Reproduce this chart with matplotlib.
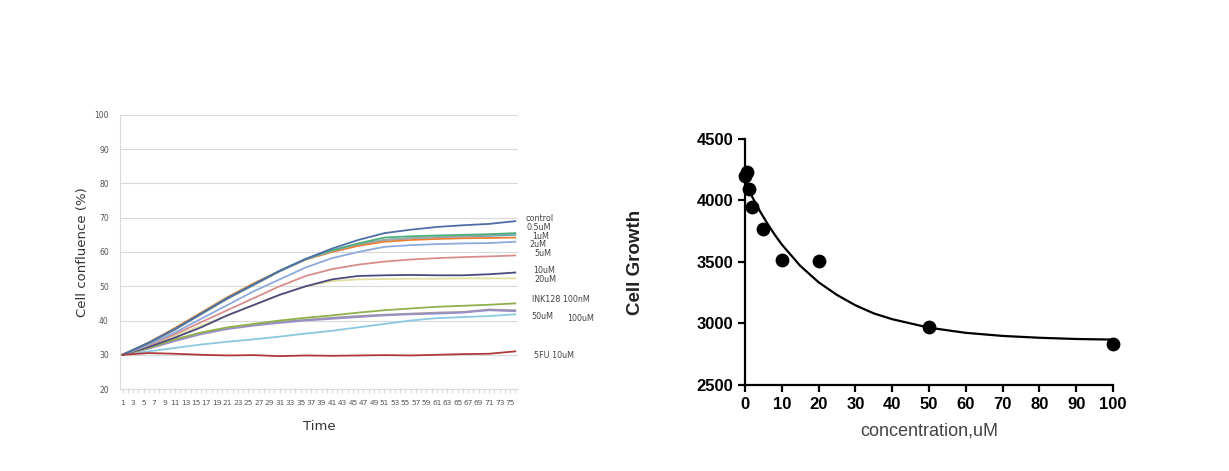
import numpy as np
import matplotlib.pyplot as plt

# ---------------------------------------------------
# Left chart: cell confluence over time (values read every 5 time points)
# ---------------------------------------------------
time_pts = [1, 6, 11, 16, 21, 26, 31, 36, 41, 46, 51, 56, 61, 66, 71, 76]

control = [30, 33.5, 37.5, 42, 46.5, 50.5, 54.5, 58, 61, 63.5, 65.5, 66.5, 67.3, 67.8, 68.2, 69]
um_0_5 = [30, 33.5, 37.5, 42, 46.5, 50.5, 54.5, 58, 60.5, 62.5, 64.2, 64.6, 64.8, 65.0, 65.2, 65.5]
um_1 = [30, 33.3, 37.3, 41.8, 46.3, 50.3, 54.3, 57.8, 60.3, 62.3, 63.5, 64.0, 64.3, 64.6, 64.9, 65.3]
um_2 = [30, 33.6, 37.8, 42.3, 46.8, 50.8, 54.5, 57.8, 60, 61.8, 63, 63.5, 63.8, 64, 64.1, 64.2]
aqua = [30, 33.4, 37.4, 41.9, 46.4, 50.4, 54.4, 57.9, 60.2, 62, 63.5, 64, 64.3, 64.5, 64.7, 65]
lav = [30, 33, 36.5, 40.5, 44.5, 48.5, 52, 55.5, 58.2, 60, 61.5, 62, 62.3, 62.5, 62.6, 63]
um_5 = [30, 32.8, 36, 39.5, 43, 46.5, 50, 53, 55, 56.3, 57.2, 57.8, 58.2, 58.5, 58.7, 59]
um_10 = [30, 32.3, 35, 38, 41.5, 44.5, 47.5, 50, 52, 53, 53.2, 53.3, 53.2, 53.2, 53.5, 54]
um_20 = [30, 32.8, 35.5, 38.5, 41.5, 44.5, 47.5, 50, 51.5, 52, 52.1, 52.2, 52.2, 52.3, 52.3, 52.3]
ink128 = [30, 32, 34.5, 36.5, 38, 39, 40, 40.8, 41.5, 42.3, 43, 43.5, 44, 44.3, 44.6, 45]
gray2 = [30, 32, 34.3, 36.3, 37.8, 38.8, 39.6, 40.2, 40.8, 41.3, 41.7, 42, 42.3, 42.5, 43.2, 43]
um_50 = [30, 31.8, 34, 36, 37.5, 38.5, 39.3, 40, 40.5, 41, 41.5, 41.8, 42, 42.3, 43, 42.7]
um_100 = [30, 31, 32, 33, 33.8, 34.5, 35.3, 36.2, 37, 38, 39, 40, 40.7, 41, 41.3, 41.8]
fu_10 = [30, 30.5, 30.3, 30, 29.8, 29.9, 29.6, 29.8, 29.7, 29.8, 29.9, 29.8, 30, 30.2, 30.3, 31]

series = [gray2, um_100, um_50, ink128, um_20, um_10, um_5, lav, aqua, um_2, um_1, um_0_5, control, fu_10]
colors = ["#9a9a9a", "#8cc8e0", "#9c8fc8", "#8fb04b", "#e2e0a0", "#4b4b80", "#d98c8c",
          "#8ea9db", "#4bacc6", "#ed7d31", "#a5a5a5", "#4caf7d", "#4f6ea8", "#b03a3a"]

line_labels = ["control", "0.5uM", "1uM", "2uM", "5uM", "10uM", "20uM",
               "INK128 100nM", "50uM", "100uM", "5FU 10uM"]
label_x = [78.0, 78.2, 79.2, 78.7, 79.6, 79.4, 79.6, 79.2, 79.1, 86.0, 79.6]
label_y = [69.7, 67.1, 64.6, 62.1, 59.6, 54.5, 52.0, 46.2, 41.1, 40.6, 29.9]

# ---------------------------------------------------
# Right chart: cell growth vs concentration
# ---------------------------------------------------
conc = [0, 0.5, 1, 2, 5, 10, 20, 50, 100]
growth = [4200, 4230, 4090, 3950, 3770, 3520, 3510, 2975, 2835]

fit_x = [0, 2, 4, 6, 8, 10, 15, 20, 25, 30, 35, 40, 50, 60, 70, 80, 90, 100]
fit_y = [4150, 4027, 3916, 3816, 3725, 3642, 3469, 3335, 3232, 3148, 3082, 3035,
         2966, 2924, 2899, 2884, 2874, 2869]

fig = plt.figure(figsize=(12.29, 4.71), dpi=100)

# left
ax1 = fig.add_axes([0.0976, 0.174, 0.3238, 0.582])
for s, c in zip(series, colors):
    ax1.plot(time_pts, s, color=c, lw=1.3)
ax1.set_xlim(0.5, 76.5)
ax1.set_ylim(20, 100)
ax1.set_yticks(range(20, 101, 10))
ax1.yaxis.grid(True, color="#d9d9d9", lw=0.8)
ax1.set_axisbelow(True)
ax1.set_xticks(range(1, 77))
ax1.set_xticklabels([str(t) if t % 2 == 1 else "" for t in range(1, 77)])
ax1.tick_params(axis="x", length=3, color="#d9d9d9", labelsize=5.3, labelcolor="#555555", pad=5)
ax1.tick_params(axis="y", length=0, labelsize=5.5, labelcolor="#555555", pad=8)
for side in ["top", "right"]:
    ax1.spines[side].set_visible(False)
ax1.spines["left"].set_color("#d9d9d9")
ax1.spines["bottom"].set_color("#d9d9d9")
ax1.set_ylabel("Cell confluence (%)", fontsize=9.5, color="#333333", labelpad=4)
ax1.set_xlabel("Time", fontsize=9.5, color="#333333", labelpad=10)
for t, x, y in zip(line_labels, label_x, label_y):
    ax1.text(x, y, t, fontsize=5.8, color="#444444", va="center", ha="left", clip_on=False)

# right
ax2 = fig.add_axes([0.6062, 0.1826, 0.2994, 0.5223])
ax2.plot(fit_x, fit_y, color="black", lw=1.6)
ax2.scatter(conc, growth, s=80, color="black", zorder=3, clip_on=False)
ax2.set_xlim(0, 100)
ax2.set_ylim(2500, 4500)
ax2.set_xticks(range(0, 101, 10))
ax2.set_yticks(range(2500, 4501, 500))
for side in ["top", "right"]:
    ax2.spines[side].set_visible(False)
for side in ["left", "bottom"]:
    ax2.spines[side].set_linewidth(1.6)
ax2.tick_params(width=1.6, length=5, labelsize=12)
for lbl in ax2.get_xticklabels() + ax2.get_yticklabels():
    lbl.set_fontweight("bold")
    lbl.set_fontfamily("Liberation Sans")
ax2.set_ylabel("Cell Growth", fontsize=13.5, fontweight="bold", family="Liberation Sans",
               color="#222222", labelpad=38)
ax2.set_xlabel("concentration,uM", fontsize=13, family="Liberation Sans", color="#444444", labelpad=8)

fig.savefig("out.png", dpi=100)
